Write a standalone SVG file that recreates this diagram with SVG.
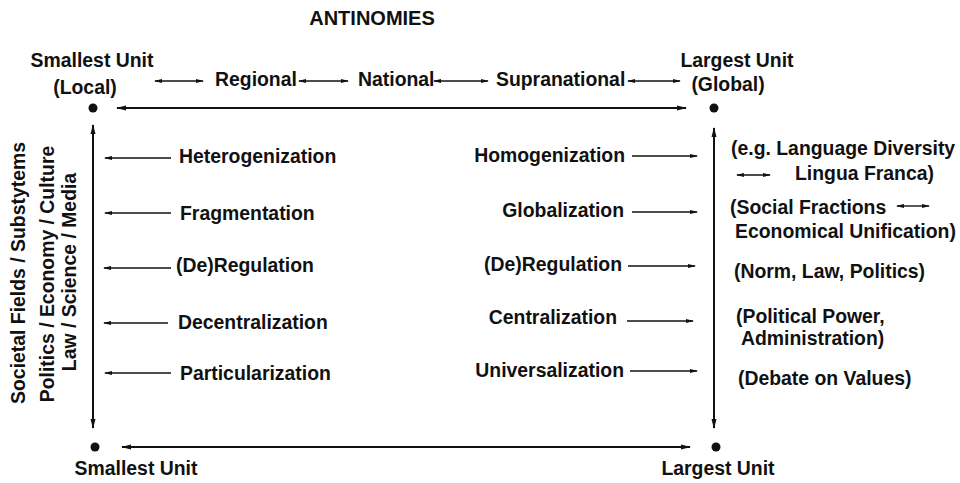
<svg xmlns="http://www.w3.org/2000/svg" width="960" height="483" viewBox="0 0 960 483">
<defs>
<marker id="ah" markerWidth="10" markerHeight="6" refX="9" refY="3" orient="auto-start-reverse" markerUnits="userSpaceOnUse">
<path d="M0,0.5 L10,3 L0,5.5 Z" fill="#111"/>
</marker>
<marker id="ahs" markerWidth="8" markerHeight="5" refX="7" refY="2.5" orient="auto-start-reverse" markerUnits="userSpaceOnUse">
<path d="M0,0.5 L8,2.5 L0,4.5 Z" fill="#111"/>
</marker>
</defs>
<style>
text{font-family:"Liberation Sans",Arial,sans-serif;font-weight:bold;font-size:19.4px;fill:#111}
.t{font-size:20px}
.m{text-anchor:middle}
.e{text-anchor:end}
.ax{stroke:#111;stroke-width:2;fill:none}
.ar{stroke:#111;stroke-width:1.4;fill:none}
.dot{fill:#111}
</style>
<rect width="960" height="483" fill="#fff"/>
<text id="title" class="m t" x="372" y="25">ANTINOMIES</text>

<g id="connectors">
<line class="ax" x1="117" y1="108" x2="686" y2="108" marker-start="url(#ah)" marker-end="url(#ah)"/>
<line class="ax" x1="122" y1="447" x2="690" y2="447" marker-start="url(#ah)" marker-end="url(#ah)"/>
<line class="ax" x1="93" y1="125" x2="93" y2="428" marker-start="url(#ah)" marker-end="url(#ah)"/>
<line class="ax" x1="714" y1="128" x2="714" y2="428" marker-start="url(#ah)" marker-end="url(#ah)"/>
<line class="ar" x1="155" y1="81" x2="203" y2="81" marker-start="url(#ahs)" marker-end="url(#ahs)"/>
<line class="ar" x1="299" y1="81" x2="348" y2="81" marker-start="url(#ahs)" marker-end="url(#ahs)"/>
<line class="ar" x1="434" y1="81" x2="488" y2="81" marker-start="url(#ahs)" marker-end="url(#ahs)"/>
<line class="ar" x1="628" y1="81" x2="680" y2="81" marker-start="url(#ahs)" marker-end="url(#ahs)"/>
<line class="ar" x1="171" y1="158" x2="105" y2="158" marker-end="url(#ahs)"/>
<line class="ar" x1="171" y1="213" x2="105" y2="213" marker-end="url(#ahs)"/>
<line class="ar" x1="171" y1="268" x2="104" y2="268" marker-end="url(#ahs)"/>
<line class="ar" x1="168" y1="323" x2="104" y2="323" marker-end="url(#ahs)"/>
<line class="ar" x1="171" y1="373" x2="105" y2="373" marker-end="url(#ahs)"/>
<line class="ar" x1="632" y1="156" x2="697" y2="156" marker-end="url(#ahs)"/>
<line class="ar" x1="632" y1="212" x2="697" y2="212" marker-end="url(#ahs)"/>
<line class="ar" x1="628" y1="266" x2="695" y2="266" marker-end="url(#ahs)"/>
<line class="ar" x1="627" y1="321" x2="693" y2="321" marker-end="url(#ahs)"/>
<line class="ar" x1="630" y1="371" x2="697" y2="371" marker-end="url(#ahs)"/>
<line class="ar" x1="737" y1="175" x2="770" y2="175" marker-start="url(#ahs)" marker-end="url(#ahs)"/>
<line class="ar" x1="897" y1="206" x2="929" y2="206" marker-start="url(#ahs)" marker-end="url(#ahs)"/>
</g>

<g id="local-top">
<text class="m" x="92" y="67">Smallest Unit</text>
<text class="m" x="85" y="94">(Local)</text>
<circle class="dot" cx="93" cy="108" r="4.5"/>
</g>
<g id="global-top">
<text class="m" x="737" y="67">Largest Unit</text>
<text class="m" x="728" y="91">(Global)</text>
<circle class="dot" cx="714" cy="108" r="4.5"/>
</g>
<g id="scale">
<text x="215" y="86">Regional</text>
<text x="358" y="86">National</text>
<text x="496" y="86">Supranational</text>
</g>
<g id="local-bottom">
<circle class="dot" cx="95" cy="447" r="4.5"/>
<text class="m" x="136" y="475">Smallest Unit</text>
</g>
<g id="global-bottom">
<circle class="dot" cx="716" cy="447" r="4.5"/>
<text class="m" x="718" y="475">Largest Unit</text>
</g>

<g id="fields">
<text class="m" transform="translate(25,273) rotate(-90)">Societal Fields / Substytems</text>
<text class="m" transform="translate(54,274) rotate(-90)">Politics / Economy / Culture</text>
<text class="m" transform="translate(76,272) rotate(-90)">Law / Science / Media</text>
</g>

<g id="local-processes">
<text x="179" y="163">Heterogenization</text>
<text x="180" y="220">Fragmentation</text>
<text x="176" y="272">(De)Regulation</text>
<text x="178" y="329">Decentralization</text>
<text x="180" y="380">Particularization</text>
</g>

<g id="global-processes">
<text class="e" x="625" y="162">Homogenization</text>
<text class="e" x="624" y="217">Globalization</text>
<text class="e" x="622" y="271">(De)Regulation</text>
<text class="e" x="617" y="324">Centralization</text>
<text class="e" x="624" y="377">Universalization</text>
</g>

<g id="examples">
<text x="731" y="155">(e.g. Language Diversity</text>
<text x="795" y="180">Lingua Franca)</text>
<text x="730" y="214">(Social Fractions</text>
<text x="735" y="238">Economical Unification)</text>
<text x="734" y="278">(Norm, Law, Politics)</text>
<text x="736" y="323">(Political Power,</text>
<text x="741" y="345">Administration)</text>
<text x="738" y="385">(Debate on Values)</text>
</g>
</svg>
